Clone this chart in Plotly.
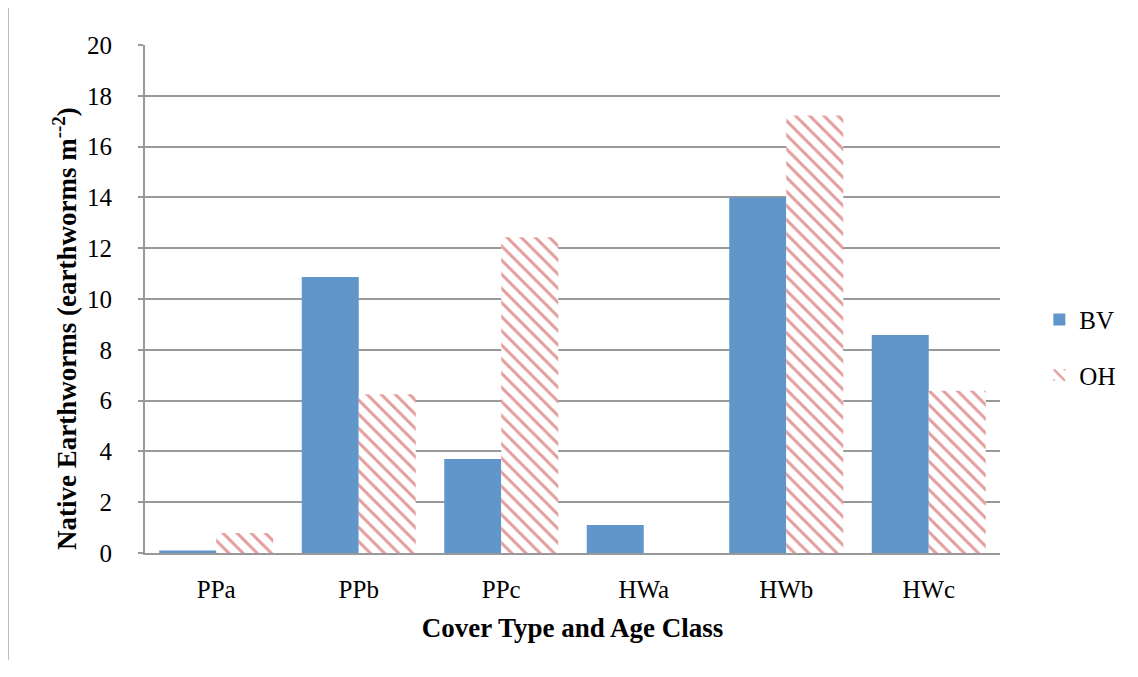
import plotly.graph_objects as go

categories = ["PPa", "PPb", "PPc", "HWa", "HWb", "HWc"]
bv_values = [0.1, 10.87, 3.7, 1.1, 14.0, 8.58]
oh_values = [0.79, 6.25, 12.43, 0.0, 17.22, 6.39]
y_ticks = [0, 2, 4, 6, 8, 10, 12, 14, 16, 18, 20]

FONT = "Liberation Serif"

fig = go.Figure()
fig.add_trace(go.Bar(
    x=categories, y=bv_values, name="BV", legendgroup="a",
    marker=dict(color="#6096CA", line=dict(color="#6096CA", width=0)),
))
fig.add_trace(go.Bar(
    x=categories, y=oh_values, name="OH", legendgroup="b",
    marker=dict(color="white", line=dict(width=0),
                pattern=dict(shape="\\", fgcolor="#C83C3C", bgcolor="white",
                             size=10, solidity=0.3)),
))

fig.update_layout(
    width=1138, height=677,
    margin=dict(l=137, r=146, t=37, b=132),
    paper_bgcolor="white", plot_bgcolor="white",
    barmode="group", bargap=0.2, bargroupgap=0,
    font=dict(family=FONT, size=25, color="black"),
    showlegend=True,
    legend=dict(x=1.046, y=0.405, xanchor="left", yanchor="middle",
                font=dict(family=FONT, size=25), tracegroupgap=20,
                bgcolor="rgba(0,0,0,0)"),
    xaxis=dict(
        title=dict(text="<b>Cover Type and Age Class</b>", font=dict(family=FONT, size=27), standoff=16),
        showline=True, linecolor="#999999", linewidth=2,
        ticks="", tickfont=dict(family=FONT, size=25), showgrid=False,
        ticklabelstandoff=13,
    ),
    yaxis=dict(
        range=[0, 20], tickvals=y_ticks,
        showline=True, linecolor="#999999", linewidth=2,
        ticks="outside", ticklen=5, tickcolor="#999999", tickwidth=2,
        showgrid=True, gridcolor="#999999", gridwidth=2,
        zeroline=False, tickfont=dict(family=FONT, size=25),
        ticklabelstandoff=21,
    ),
    annotations=[dict(
        text="<b>Native Earthworms (earthworms m<sup>--2</sup>)</b>",
        xref="paper", yref="paper", x=-0.0936, y=0.443,
        xanchor="center", yanchor="middle", textangle=-90, showarrow=False,
        font=dict(family=FONT, size=27, color="black"),
    )],
    shapes=[dict(type="line", xref="paper", yref="paper",
                 x0=-0.1602, x1=-0.1602, y0=-0.21, y1=1.09,
                 line=dict(color="#BBBBBB", width=2))],
)

fig.write_html("out.html")
